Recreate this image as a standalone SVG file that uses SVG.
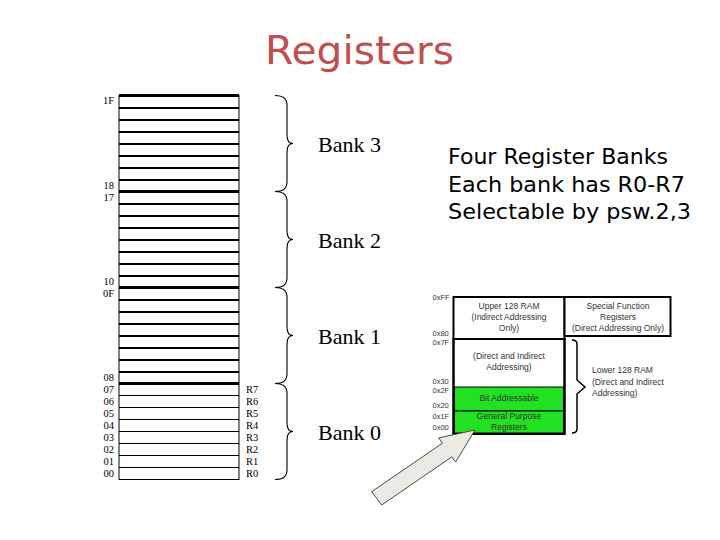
<svg xmlns="http://www.w3.org/2000/svg" width="720" height="540" viewBox="0 0 720 540">
<style>
.ser{font-family:"Liberation Serif","Times New Roman",serif;fill:#000}
.addr{font-size:10.5px}
.bank{font-size:22px}
.hand{font-family:"DejaVu Sans","Noto Sans",sans-serif;font-size:21px;fill:#000}
.map{font-family:"Liberation Sans",Arial,sans-serif;font-size:8.5px;fill:#333}
.mapc{text-anchor:middle}
.hex{font-family:"Liberation Sans",Arial,sans-serif;font-size:7.5px;fill:#333}
.ln3{stroke:#000;stroke-width:3}
.ln2{stroke:#000;stroke-width:2}
.ln1{stroke:#000;stroke-width:1}
.brace{fill:none;stroke:#000;stroke-width:1.1}
.box{fill:#fff;stroke:#000;stroke-width:2}
.green{fill:#22e022;stroke:#000;stroke-width:1}
</style>
<rect width="720" height="540" fill="#fff"/>

<g id="title">
<text x="265" y="64" font-family="DejaVu Sans, sans-serif" font-size="39" fill="#c0504d" textLength="189" lengthAdjust="spacingAndGlyphs">Registers</text>
</g>

<g id="register-stack">
<rect x="119" y="95.5" width="120" height="384" fill="#fff" stroke="#000" stroke-width="1"/>
<g>
<line class="ln3" x1="119" y1="95.5" x2="239" y2="95.5"/>
<line class="ln2" x1="119" y1="108" x2="239" y2="108"/>
<line class="ln2" x1="119" y1="120" x2="239" y2="120"/>
<line class="ln2" x1="119" y1="132" x2="239" y2="132"/>
<line class="ln2" x1="119" y1="144" x2="239" y2="144"/>
<line class="ln2" x1="119" y1="156" x2="239" y2="156"/>
<line class="ln2" x1="119" y1="168" x2="239" y2="168"/>
<line class="ln2" x1="119" y1="180" x2="239" y2="180"/>
<line class="ln3" x1="119" y1="191.5" x2="239" y2="191.5"/>
<line class="ln2" x1="119" y1="204" x2="239" y2="204"/>
<line class="ln2" x1="119" y1="216" x2="239" y2="216"/>
<line class="ln2" x1="119" y1="228" x2="239" y2="228"/>
<line class="ln2" x1="119" y1="240" x2="239" y2="240"/>
<line class="ln2" x1="119" y1="252" x2="239" y2="252"/>
<line class="ln2" x1="119" y1="264" x2="239" y2="264"/>
<line class="ln2" x1="119" y1="276" x2="239" y2="276"/>
<line class="ln3" x1="119" y1="287.5" x2="239" y2="287.5"/>
<line class="ln2" x1="119" y1="300" x2="239" y2="300"/>
<line class="ln2" x1="119" y1="312" x2="239" y2="312"/>
<line class="ln2" x1="119" y1="324" x2="239" y2="324"/>
<line class="ln2" x1="119" y1="336" x2="239" y2="336"/>
<line class="ln2" x1="119" y1="348" x2="239" y2="348"/>
<line class="ln2" x1="119" y1="360" x2="239" y2="360"/>
<line class="ln2" x1="119" y1="372" x2="239" y2="372"/>
<line class="ln3" x1="119" y1="383.5" x2="239" y2="383.5"/>
<line class="ln1" x1="119" y1="395.5" x2="239" y2="395.5"/>
<line class="ln1" x1="119" y1="407.5" x2="239" y2="407.5"/>
<line class="ln1" x1="119" y1="419.5" x2="239" y2="419.5"/>
<line class="ln1" x1="119" y1="431.5" x2="239" y2="431.5"/>
<line class="ln1" x1="119" y1="443.5" x2="239" y2="443.5"/>
<line class="ln1" x1="119" y1="455.5" x2="239" y2="455.5"/>
<line class="ln1" x1="119" y1="467.5" x2="239" y2="467.5"/>
</g>
<g class="ser addr" text-anchor="end">
<text x="114" y="104">1F</text>
<text x="114" y="189">18</text>
<text x="114" y="201">17</text>
<text x="114" y="285">10</text>
<text x="114" y="297">0F</text>
<text x="114" y="381">08</text>
<text x="114" y="393">07</text>
<text x="114" y="405">06</text>
<text x="114" y="417">05</text>
<text x="114" y="429">04</text>
<text x="114" y="441">03</text>
<text x="114" y="453">02</text>
<text x="114" y="465">01</text>
<text x="114" y="477">00</text>
</g>
<g class="ser addr">
<text x="246" y="393">R7</text>
<text x="246" y="405">R6</text>
<text x="246" y="417">R5</text>
<text x="246" y="429">R4</text>
<text x="246" y="441">R3</text>
<text x="246" y="453">R2</text>
<text x="246" y="465">R1</text>
<text x="246" y="477">R0</text>
</g>
</g>

<g id="bank3">
<path class="brace" d="M275,95.5 C283,95.5 287,98 287,105 L287,135 C287,140 289,143.5 293,143.5 C289,143.5 287,147 287,152 L287,182 C287,189 283,191.5 275,191.5"/>
<text class="ser bank" x="318" y="151.5">Bank 3</text>
</g>
<g id="bank2">
<path class="brace" d="M275,191.5 C283,191.5 287,194 287,201 L287,231 C287,236 289,239.5 293,239.5 C289,239.5 287,243 287,248 L287,278 C287,285 283,287.5 275,287.5"/>
<text class="ser bank" x="318" y="247.5">Bank 2</text>
</g>
<g id="bank1">
<path class="brace" d="M275,287.5 C283,287.5 287,290 287,297 L287,327 C287,332 289,335.5 293,335.5 C289,335.5 287,339 287,344 L287,374 C287,381 283,383.5 275,383.5"/>
<text class="ser bank" x="318" y="343.5">Bank 1</text>
</g>
<g id="bank0">
<path class="brace" d="M275,383.5 C283,383.5 287,386 287,393 L287,423 C287,428 289,431.5 293,431.5 C289,431.5 287,435 287,440 L287,470 C287,477 283,479.5 275,479.5"/>
<text class="ser bank" x="318" y="439.5">Bank 0</text>
</g>

<g id="description">
<text class="hand" x="448" y="164" textLength="220" lengthAdjust="spacingAndGlyphs">Four Register Banks</text>
<text class="hand" x="448" y="191.5" textLength="237" lengthAdjust="spacingAndGlyphs">Each bank has R0-R7</text>
<text class="hand" x="448" y="219" textLength="243" lengthAdjust="spacingAndGlyphs">Selectable by psw.2,3</text>
</g>

<g id="memory-map">
<rect class="box" x="453.5" y="297" width="111" height="42"/>
<rect class="box" x="564.5" y="297" width="106" height="39"/>
<rect class="box" x="453.5" y="339" width="111" height="95"/>
<rect class="green" x="454.5" y="387" width="109" height="24"/>
<rect class="green" x="454.5" y="411" width="109" height="22"/>
<rect x="453.5" y="339" width="111" height="95" fill="none" stroke="#000" stroke-width="2"/>
<g class="map mapc">
<text x="509" y="309">Upper 128 RAM</text>
<text x="509" y="320">(Indirect Addressing</text>
<text x="509" y="331">Only)</text>
<text x="618" y="309">Special Function</text>
<text x="618" y="320">Registers</text>
<text x="618" y="331">(Direct Addressing Only)</text>
<text x="509" y="358.5">(Direct and Indirect</text>
<text x="509" y="370">Addressing)</text>
<text x="509" y="400.5">Bit Addressable</text>
<text x="509" y="419">General Purpose</text>
<text x="509" y="430">Registers</text>
</g>
<g class="map">
<text x="592" y="373">Lower 128 RAM</text>
<text x="592" y="384.5">(Direct and Indirect</text>
<text x="592" y="396">Addressing)</text>
</g>
<g class="hex">
<text x="432.5" y="300">0xFF</text>
<text x="432.5" y="336">0x80</text>
<text x="432.5" y="345">0x7F</text>
<text x="432.5" y="383.5">0x30</text>
<text x="432.5" y="393">0x2F</text>
<text x="432.5" y="407.5">0x20</text>
<text x="432.5" y="418.5">0x1F</text>
<text x="432.5" y="429.5">0x00</text>
</g>
<path fill="none" stroke="#000" stroke-width="1.5" d="M572,340 C575,340 577,341 577,344 L577,380 L585,387 L577,394 L577,429 C577,432 575,433 572,433"/>
</g>

<g id="connectors">
<polygon points="371.7,491.7 442.4,443.2 438.8,437.9 475,430 455.6,462.1 451.9,456.8 381.7,505" fill="#ecebe3" stroke="#4a4a4a" stroke-width="1"/>
</g>
</svg>
